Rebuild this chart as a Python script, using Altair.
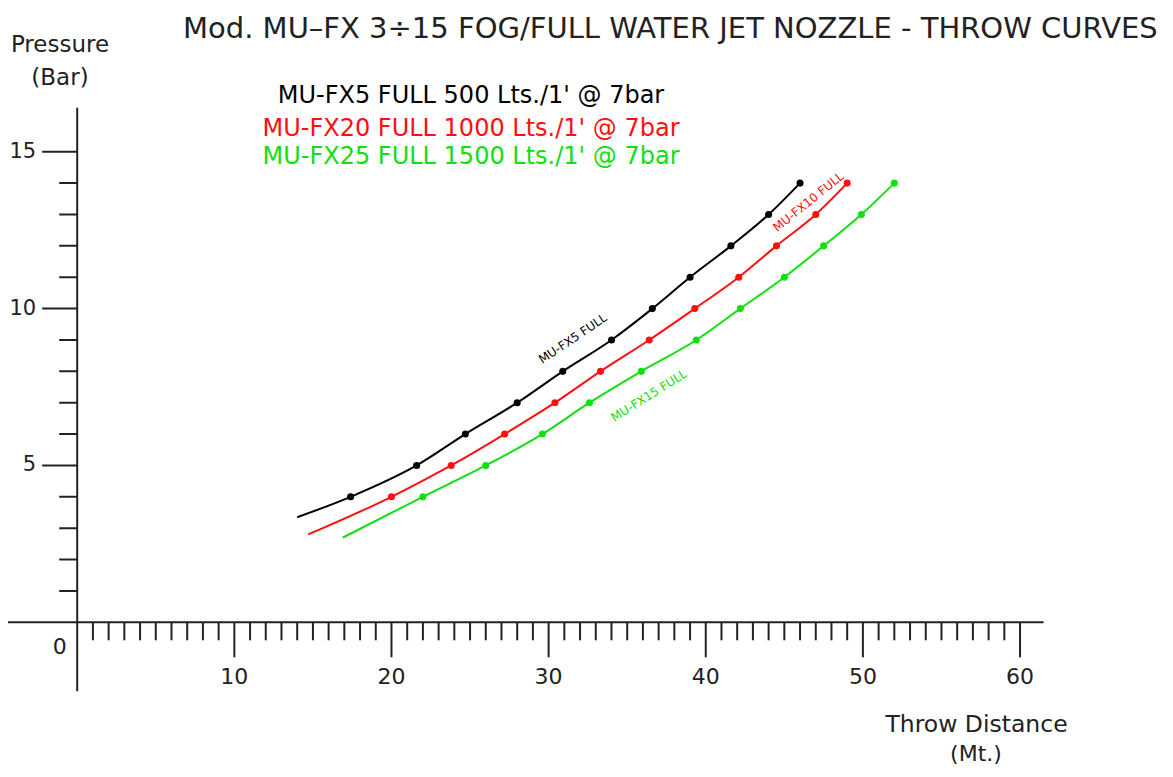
import altair as alt
import pandas as pd

# ---------------- data ----------------
series = ["MU-FX5 FULL", "MU-FX10 FULL", "MU-FX15 FULL"]
colors = ["#000000", "#ff1010", "#10e010"]

pressure = [4, 5, 6, 7, 8, 9, 10, 11, 12, 13, 14]

fx5_start = [14.0, 3.35]
fx5_x = [17.4, 21.6, 24.7, 28.0, 30.9, 34.0, 36.6, 39.0, 41.6, 44.0, 46.0]

fx10_start = [14.7, 2.8]
fx10_x = [20.0, 23.8, 27.2, 30.4, 33.3, 36.4, 39.3, 42.1, 44.5, 47.0, 49.0]

fx15_start = [16.9, 2.7]
fx15_x = [22.0, 26.0, 29.6, 32.6, 35.9, 39.4, 42.2, 45.0, 47.5, 49.9, 52.0]

x_axis_extent = [-4.4, 61.5]
y_axis_extent = [-2.2, 16.4]
x_tick_values = list(range(1, 61))
x_major_values = [10, 20, 30, 40, 50, 60]
y_tick_values = list(range(1, 16))
y_major_values = [5, 10, 15]

legend_lines = [
    "MU-FX5 FULL 500 Lts./1' @ 7bar",
    "MU-FX20 FULL 1000 Lts./1' @ 7bar",
    "MU-FX25 FULL 1500 Lts./1' @ 7bar",
]
title_text = "Mod. MU\u2013FX 3\u00f715 FOG/FULL WATER JET NOZZLE - THROW CURVES"

# ---------------- layout ----------------
FONT = "DejaVu Sans"
INK = "#222222"
W, H = 1157, 761
X0_PX, Y0_PX = 69.2, 614.3
PX_X, PX_Y = 15.714, 31.37

xs = alt.Scale(domain=[-X0_PX / PX_X, (W - X0_PX) / PX_X], nice=False, zero=False)
ys = alt.Scale(domain=[-(H - Y0_PX) / PX_Y, Y0_PX / PX_Y], nice=False, zero=False)
cs = alt.Scale(domain=series, range=colors)

# ---------------- tables ----------------
rows_line, rows_pt = [], []
for name, start, xv in zip(series, [fx5_start, fx10_start, fx15_start], [fx5_x, fx10_x, fx15_x]):
    rows_line.append({"s": name, "x": start[0], "y": start[1]})
    for xx, p in zip(xv, pressure):
        rows_line.append({"s": name, "x": xx, "y": p})
        rows_pt.append({"s": name, "x": xx, "y": p})
df_line = pd.DataFrame(rows_line)
df_pt = pd.DataFrame(rows_pt)

X = lambda f="x": alt.X(f"{f}:Q", scale=xs, axis=None)
Y = lambda f="y": alt.Y(f"{f}:Q", scale=ys, axis=None)

lines = alt.Chart(df_line).mark_line(interpolate="monotone", strokeWidth=2).encode(
    x=X(), y=Y(), color=alt.Color("s:N", scale=cs, legend=None), detail="s:N"
)
points = alt.Chart(df_pt).mark_circle(size=50, opacity=1).encode(
    x=X(), y=Y(), color=alt.Color("s:N", scale=cs, legend=None)
)

# axes drawn at the origin
x_axis = alt.Chart(pd.DataFrame({"x": [x_axis_extent[0]], "x2": [x_axis_extent[1]], "y": [0]})).mark_rule(
    color=INK, strokeWidth=2
).encode(x=X(), x2="x2:Q", y=Y())
y_axis = alt.Chart(pd.DataFrame({"y": [y_axis_extent[0]], "y2": [y_axis_extent[1]], "x": [0]})).mark_rule(
    color=INK, strokeWidth=2
).encode(y=Y(), y2="y2:Q", x=X())

x_minor = pd.DataFrame({"x": [v for v in x_tick_values if v not in x_major_values], "y": 0})
x_major = pd.DataFrame({"x": x_major_values, "y": 0})
y_minor = pd.DataFrame({"y": [v for v in y_tick_values if v not in y_major_values], "x": 0})
y_major = pd.DataFrame({"y": y_major_values, "x": 0})

xt_minor = alt.Chart(x_minor).mark_tick(orient="vertical", size=18, thickness=2, yOffset=9, color=INK, opacity=1).encode(x=X(), y=Y())
xt_major = alt.Chart(x_major).mark_tick(orient="vertical", size=35, thickness=2, yOffset=17.5, color=INK, opacity=1).encode(x=X(), y=Y())
yt_minor = alt.Chart(y_minor).mark_tick(orient="horizontal", size=18, thickness=2, xOffset=-9, color=INK, opacity=1).encode(x=X(), y=Y())
yt_major = alt.Chart(y_major).mark_tick(orient="horizontal", size=35, thickness=2, xOffset=-17.5, color=INK, opacity=1).encode(x=X(), y=Y())

x_labels = alt.Chart(x_major.assign(t=x_major["x"].astype(str))).mark_text(
    font=FONT, fontSize=22, color=INK, align="center", baseline="alphabetic", dy=61.5
).encode(x=X(), y=Y(), text="t:N")
y_labels = alt.Chart(y_major.assign(t=y_major["y"].astype(str))).mark_text(
    font=FONT, fontSize=21, color=INK, align="right", baseline="middle", dx=-41
).encode(x=X(), y=Y(), text="t:N")
zero_label = alt.Chart(pd.DataFrame({"x": [0], "y": [0], "t": ["0"]})).mark_text(
    font=FONT, fontSize=22, color=INK, align="right", baseline="middle", dx=-10.5, dy=24.5
).encode(x=X(), y=Y(), text="t:N")


def label(text, x, y, size, color=INK, align="center", angle=0):
    return alt.Chart(pd.DataFrame({"t": [text]})).mark_text(
        font=FONT, fontSize=size, color=color, align=align, baseline="alphabetic", angle=angle
    ).encode(x=alt.value(x), y=alt.value(y), text="t:N")


annotations = [
    label(title_text, 175, 29.5, 29, align="left"),
    label("Pressure", 52, 44, 23),
    label("(Bar)", 52, 77, 23),
    label("Throw Distance", 968.5, 724, 23.5),
    label("(Mt.)", 968, 753, 22),
    label(legend_lines[0], 463, 94.7, 24, color=colors[0]),
    label(legend_lines[1], 463, 128, 24, color=colors[1]),
    label(legend_lines[2], 463, 156.3, 24, color=colors[2]),
    label("MU-FX5 FULL", 567, 334, 12, color=colors[0], angle=326),
    label("MU-FX10 FULL", 803, 197, 12, color=colors[1], angle=321),
    label("MU-FX15 FULL", 643, 391, 12, color=colors[2], angle=328),
]

chart = alt.layer(
    x_axis, y_axis, xt_minor, xt_major, yt_minor, yt_major,
    x_labels, y_labels, zero_label,
    lines, points, *annotations
).properties(
    width=W, height=H, padding=0,
    autosize=alt.AutoSizeParams(type="none"),
    background="white",
).configure_view(stroke=None)

chart.save("out.html", embed_options={"renderer": "svg", "actions": False})
